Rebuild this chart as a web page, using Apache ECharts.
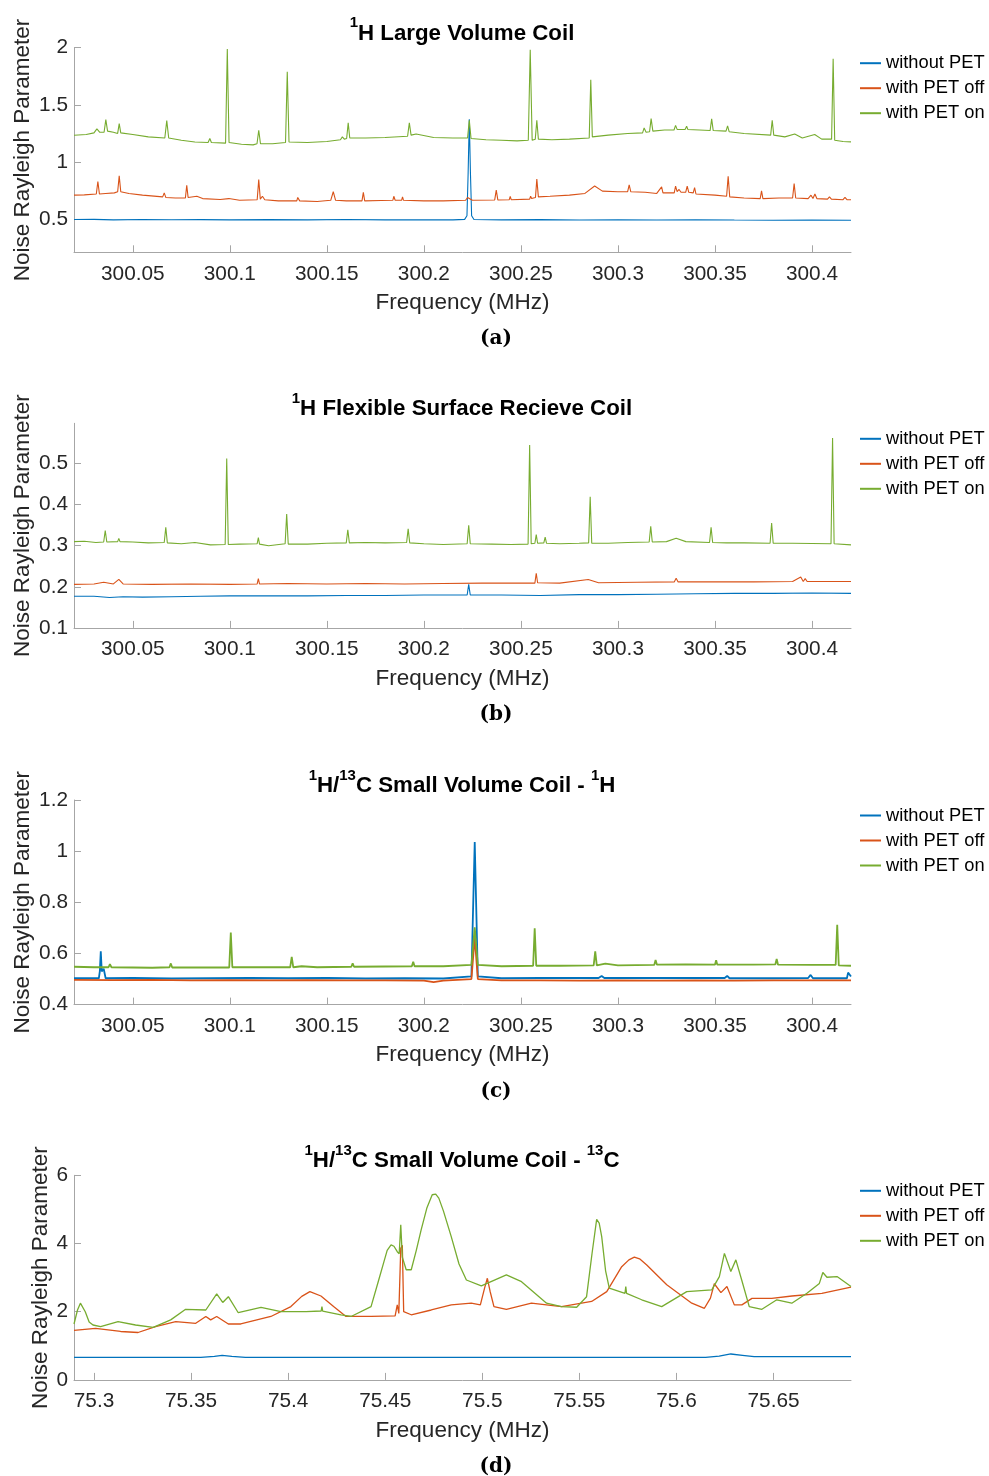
<!DOCTYPE html>
<html>
<head>
<meta charset="utf-8">
<script src="https://cdn.jsdelivr.net/npm/echarts@6/dist/echarts.min.js"></script>
<style>
  html, body { margin: 0; padding: 0; background: #fff; }
  #chart { width: 989px; height: 1476px; }
</style>
</head>
<body>
<div id="chart"></div>
<script>
  // series names + tick values
  const seriesNames = ['without PET', 'with PET off', 'with PET on'];
  const hzTicks = [300.05, 300.1, 300.15, 300.2, 300.25, 300.3, 300.35, 300.4];
  const cTicks = [75.3, 75.35, 75.4, 75.45, 75.5, 75.55, 75.6, 75.65];
  const yTicksA = [0.5, 1, 1.5, 2];
  const yTicksB = [0.1, 0.2, 0.3, 0.4, 0.5];
  const yTicksC = [0.4, 0.6, 0.8, 1, 1.2];
  const yTicksD = [0, 2, 4, 6];

  // (a) 1H large volume coil  [MHz, rayleigh param]
  const aBlue = [[300.0197,0.497],[300.03,0.498],[300.04,0.494],[300.055,0.497],[300.07,0.495],[300.085,0.496],[300.1,0.494],[300.12,0.496],[300.14,0.494],[300.16,0.497],[300.18,0.494],[300.2,0.495],[300.215,0.494],[300.221,0.498],[300.2222,0.53],[300.2228,0.9],[300.2234,1.374],[300.224,0.9],[300.2246,0.53],[300.2258,0.497],[300.24,0.494],[300.26,0.496],[300.28,0.493],[300.3,0.494],[300.32,0.492],[300.34,0.494],[300.36,0.492],[300.38,0.491],[300.4,0.492],[300.4201,0.49]];
  const aOrange = [[300.0197,0.71],[300.025,0.712],[300.0312,0.72],[300.032,0.829],[300.0328,0.72],[300.036,0.725],[300.0405,0.73],[300.041,0.745],[300.0422,0.74],[300.043,0.879],[300.0438,0.74],[300.048,0.725],[300.055,0.71],[300.0654,0.695],[300.0662,0.73],[300.067,0.69],[300.072,0.685],[300.0771,0.685],[300.0778,0.797],[300.0785,0.69],[300.083,0.7],[300.086,0.68],[300.095,0.672],[300.0995,0.68],[300.105,0.665],[300.1141,0.67],[300.1149,0.846],[300.1157,0.675],[300.1168,0.7],[300.118,0.67],[300.125,0.66],[300.1345,0.66],[300.135,0.69],[300.136,0.66],[300.145,0.655],[300.152,0.665],[300.1533,0.74],[300.1545,0.665],[300.16,0.66],[300.1681,0.66],[300.1688,0.734],[300.1695,0.66],[300.178,0.663],[300.184,0.665],[300.1845,0.7],[300.1852,0.665],[300.1885,0.665],[300.189,0.695],[300.1895,0.665],[300.2,0.66],[300.21,0.66],[300.2215,0.665],[300.2225,0.69],[300.2235,0.68],[300.225,0.665],[300.2365,0.668],[300.2373,0.754],[300.2381,0.668],[300.244,0.67],[300.2445,0.7],[300.245,0.67],[300.2545,0.675],[300.255,0.7],[300.2555,0.68],[300.2575,0.69],[300.2582,0.85],[300.259,0.695],[300.265,0.7],[300.275,0.71],[300.283,0.725],[300.288,0.79],[300.292,0.745],[300.3,0.74],[300.305,0.74],[300.3058,0.8],[300.3066,0.74],[300.314,0.735],[300.32,0.725],[300.3225,0.783],[300.3232,0.73],[300.329,0.73],[300.3297,0.789],[300.3305,0.74],[300.3315,0.76],[300.3325,0.735],[300.3349,0.735],[300.3357,0.789],[300.3365,0.735],[300.3388,0.73],[300.3395,0.775],[300.3402,0.72],[300.35,0.71],[300.356,0.7],[300.3568,0.876],[300.3576,0.695],[300.365,0.685],[300.3733,0.68],[300.374,0.748],[300.3747,0.68],[300.383,0.685],[300.39,0.685],[300.3908,0.811],[300.3916,0.685],[300.398,0.68],[300.3995,0.71],[300.4005,0.68],[300.4015,0.72],[300.4025,0.68],[300.408,0.675],[300.409,0.695],[300.41,0.675],[300.416,0.67],[300.417,0.69],[300.418,0.67],[300.4201,0.67]];
  const aGreen = [[300.0197,1.234],[300.026,1.24],[300.030,1.255],[300.0315,1.29],[300.033,1.26],[300.0352,1.26],[300.0361,1.371],[300.037,1.27],[300.040,1.26],[300.0422,1.25],[300.043,1.336],[300.0438,1.255],[300.050,1.24],[300.058,1.22],[300.0665,1.21],[300.0675,1.362],[300.0685,1.21],[300.075,1.19],[300.082,1.175],[300.0888,1.17],[300.0897,1.205],[300.0905,1.17],[300.0978,1.165],[300.0987,1.988],[300.0996,1.17],[300.106,1.155],[300.112,1.15],[300.114,1.16],[300.1149,1.278],[300.1158,1.16],[300.122,1.16],[300.1287,1.17],[300.1296,1.79],[300.1305,1.175],[300.14,1.17],[300.15,1.18],[300.157,1.195],[300.158,1.22],[300.159,1.2],[300.1602,1.205],[300.161,1.342],[300.1618,1.21],[300.17,1.21],[300.18,1.215],[300.1916,1.225],[300.1925,1.342],[300.1934,1.235],[300.196,1.245],[300.197,1.23],[300.205,1.215],[300.215,1.21],[300.2225,1.21],[300.2234,1.365],[300.2243,1.205],[300.232,1.195],[300.240,1.19],[300.248,1.185],[300.2538,1.19],[300.2548,1.983],[300.2558,1.19],[300.2574,1.2],[300.2582,1.365],[300.259,1.2],[300.266,1.195],[300.275,1.2],[300.2852,1.21],[300.286,1.72],[300.2868,1.22],[300.295,1.235],[300.305,1.25],[300.3127,1.255],[300.3135,1.298],[300.3145,1.26],[300.3163,1.265],[300.3171,1.38],[300.318,1.27],[300.324,1.28],[300.3289,1.28],[300.3297,1.32],[300.3305,1.285],[300.3346,1.285],[300.3354,1.313],[300.336,1.285],[300.342,1.28],[300.3475,1.275],[300.3483,1.377],[300.3491,1.275],[300.3557,1.27],[300.3565,1.316],[300.3573,1.265],[300.365,1.25],[300.3787,1.235],[300.3795,1.365],[300.3803,1.235],[300.386,1.22],[300.3911,1.245],[300.395,1.21],[300.4014,1.24],[300.405,1.2],[300.4101,1.2],[300.4109,1.904],[300.4117,1.19],[300.416,1.18],[300.4201,1.176]];

  // (b) 1H flexible surface receive coil
  const bBlue = [[300.0197,0.177],[300.03,0.177],[300.038,0.174],[300.045,0.176],[300.055,0.175],[300.07,0.176],[300.085,0.177],[300.1,0.178],[300.12,0.178],[300.14,0.178],[300.16,0.179],[300.18,0.179],[300.2,0.18],[300.2223,0.18],[300.2231,0.206],[300.2239,0.18],[300.24,0.18],[300.26,0.179],[300.28,0.181],[300.3,0.181],[300.32,0.182],[300.34,0.183],[300.36,0.184],[300.38,0.184],[300.4,0.185],[300.4201,0.184]];
  const bOrange = [[300.0197,0.206],[300.03,0.207],[300.035,0.211],[300.04,0.207],[300.0428,0.218],[300.045,0.207],[300.06,0.206],[300.08,0.207],[300.1,0.206],[300.1141,0.207],[300.1147,0.22],[300.1153,0.207],[300.13,0.208],[300.15,0.207],[300.17,0.208],[300.19,0.207],[300.21,0.208],[300.23,0.209],[300.25,0.209],[300.2572,0.209],[300.2579,0.233],[300.2586,0.21],[300.27,0.209],[300.2847,0.218],[300.29,0.21],[300.31,0.211],[300.329,0.212],[300.33,0.221],[300.331,0.212],[300.35,0.212],[300.37,0.212],[300.39,0.213],[300.3942,0.224],[300.3955,0.213],[300.3965,0.22],[300.3975,0.213],[300.41,0.213],[300.4201,0.213]];
  const bGreen = [[300.0197,0.31],[300.025,0.311],[300.031,0.308],[300.035,0.309],[300.0358,0.337],[300.0366,0.309],[300.0422,0.31],[300.0428,0.318],[300.0434,0.31],[300.05,0.309],[300.058,0.307],[300.0662,0.308],[300.067,0.345],[300.0678,0.307],[300.075,0.305],[300.082,0.308],[300.09,0.302],[300.0976,0.303],[300.0984,0.512],[300.0992,0.303],[300.105,0.304],[300.1141,0.305],[300.1147,0.32],[300.1153,0.304],[300.12,0.3],[300.1285,0.305],[300.1293,0.377],[300.1301,0.304],[300.14,0.304],[300.15,0.306],[300.16,0.307],[300.1608,0.339],[300.1616,0.307],[300.17,0.308],[300.18,0.307],[300.1911,0.308],[300.1919,0.341],[300.1927,0.307],[300.2,0.305],[300.21,0.303],[300.2223,0.305],[300.2231,0.35],[300.2239,0.305],[300.235,0.304],[300.245,0.303],[300.2537,0.304],[300.2545,0.545],[300.2553,0.305],[300.2572,0.306],[300.2579,0.327],[300.2586,0.306],[300.2618,0.307],[300.2625,0.321],[300.2632,0.306],[300.27,0.305],[300.28,0.306],[300.2849,0.307],[300.2857,0.419],[300.2865,0.306],[300.295,0.306],[300.305,0.308],[300.3161,0.309],[300.3169,0.347],[300.3177,0.309],[300.325,0.31],[300.33,0.318],[300.335,0.31],[300.3472,0.308],[300.348,0.345],[300.3488,0.308],[300.356,0.307],[300.365,0.307],[300.3784,0.306],[300.3792,0.355],[300.38,0.306],[300.39,0.306],[300.4098,0.305],[300.4106,0.562],[300.4114,0.305],[300.4201,0.302]];

  // (c) 1H/13C small volume coil, 1H channel
  const cBlue = [[300.0197,0.503],[300.0325,0.503],[300.033,0.53],[300.0335,0.608],[300.034,0.53],[300.035,0.54],[300.036,0.503],[300.05,0.504],[300.07,0.502],[300.09,0.503],[300.11,0.504],[300.13,0.503],[300.15,0.504],[300.17,0.502],[300.19,0.503],[300.21,0.502],[300.2245,0.51],[300.2262,1.036],[300.2278,0.51],[300.24,0.503],[300.26,0.504],[300.29,0.504],[300.2916,0.512],[300.293,0.504],[300.33,0.504],[300.355,0.504],[300.3563,0.512],[300.3575,0.503],[300.38,0.503],[300.398,0.504],[300.3993,0.516],[300.4005,0.503],[300.418,0.503],[300.4186,0.525],[300.4201,0.51]];
  const cOrange = [[300.0197,0.497],[300.04,0.496],[300.06,0.497],[300.08,0.495],[300.1,0.496],[300.12,0.495],[300.14,0.496],[300.16,0.495],[300.18,0.495],[300.2,0.494],[300.205,0.488],[300.21,0.494],[300.2245,0.5],[300.2262,0.665],[300.2278,0.5],[300.24,0.495],[300.26,0.495],[300.28,0.494],[300.3,0.495],[300.32,0.494],[300.34,0.495],[300.36,0.494],[300.38,0.495],[300.4,0.495],[300.4201,0.495]];
  const cGreen = [[300.0197,0.548],[300.03,0.546],[300.0375,0.546],[300.0382,0.558],[300.039,0.546],[300.05,0.545],[300.06,0.544],[300.0689,0.546],[300.0696,0.561],[300.0703,0.545],[300.085,0.545],[300.0997,0.545],[300.1005,0.682],[300.1013,0.546],[300.115,0.546],[300.1311,0.546],[300.1319,0.587],[300.1327,0.546],[300.137,0.55],[300.145,0.546],[300.1626,0.548],[300.1633,0.561],[300.164,0.548],[300.18,0.549],[300.1938,0.55],[300.1945,0.567],[300.1952,0.55],[300.21,0.55],[300.2245,0.555],[300.2262,0.702],[300.2278,0.555],[300.24,0.55],[300.2563,0.552],[300.2571,0.698],[300.2579,0.552],[300.27,0.552],[300.2875,0.553],[300.2883,0.608],[300.2891,0.553],[300.2935,0.56],[300.3,0.553],[300.3187,0.555],[300.3194,0.574],[300.3201,0.556],[300.335,0.557],[300.35,0.556],[300.3506,0.574],[300.3512,0.556],[300.37,0.556],[300.3811,0.557],[300.3818,0.578],[300.3825,0.556],[300.4,0.555],[300.4122,0.555],[300.413,0.712],[300.4138,0.553],[300.4201,0.552]];

  // (d) 1H/13C small volume coil, 13C channel
  const dBlue = [[75.2897,0.66],[75.31,0.66],[75.33,0.66],[75.355,0.66],[75.362,0.69],[75.366,0.72],[75.371,0.69],[75.378,0.66],[75.4,0.66],[75.43,0.66],[75.46,0.66],[75.5,0.66],[75.54,0.66],[75.58,0.66],[75.6,0.66],[75.615,0.66],[75.622,0.7],[75.628,0.76],[75.634,0.72],[75.64,0.68],[75.66,0.68],[75.6899,0.68]];
  const dOrange = [[75.2897,1.45],[75.3008,1.51],[75.3137,1.42],[75.3227,1.39],[75.3317,1.56],[75.3421,1.71],[75.3524,1.66],[75.3576,1.86],[75.3601,1.76],[75.3632,1.86],[75.3692,1.64],[75.3756,1.64],[75.3911,1.86],[75.4014,2.15],[75.407,2.45],[75.4112,2.59],[75.4169,2.46],[75.4234,2.15],[75.4298,1.86],[75.4427,1.86],[75.4551,1.88],[75.4562,2.2],[75.457,1.95],[75.458,3.86],[75.4588,3.95],[75.4595,2.0],[75.4634,1.91],[75.4737,2.05],[75.484,2.2],[75.4943,2.25],[75.499,2.2],[75.5012,2.7],[75.5026,2.98],[75.504,2.6],[75.506,2.15],[75.5124,2.07],[75.5253,2.25],[75.5408,2.15],[75.5563,2.3],[75.5641,2.59],[75.5718,3.32],[75.5755,3.52],[75.5783,3.6],[75.581,3.55],[75.5847,3.37],[75.595,2.79],[75.6079,2.25],[75.6144,2.1],[75.6175,2.4],[75.6195,2.82],[75.6229,2.56],[75.626,2.74],[75.6298,2.2],[75.6337,2.2],[75.6389,2.39],[75.6491,2.39],[75.6595,2.46],[75.6749,2.54],[75.6899,2.72]];
  const dGreen = [[75.2897,1.64],[75.2915,2.05],[75.293,2.25],[75.2955,2.0],[75.2975,1.7],[75.2995,1.61],[75.3034,1.56],[75.3124,1.71],[75.3214,1.61],[75.3305,1.54],[75.3395,1.76],[75.3472,2.07],[75.3576,2.05],[75.3632,2.52],[75.3663,2.27],[75.3692,2.44],[75.3743,1.97],[75.386,2.13],[75.3963,2.0],[75.4092,2.0],[75.417,2.02],[75.4174,2.15],[75.4178,2.02],[75.4272,1.91],[75.4324,1.86],[75.4427,2.15],[75.4465,2.9],[75.4492,3.44],[75.451,3.8],[75.453,3.96],[75.4545,3.92],[75.4562,3.76],[75.4572,3.7],[75.458,4.55],[75.4588,3.6],[75.4608,3.23],[75.4634,3.23],[75.466,3.8],[75.4685,4.4],[75.4715,5.05],[75.4742,5.43],[75.476,5.45],[75.4776,5.33],[75.480,4.95],[75.484,4.2],[75.488,3.4],[75.4918,2.93],[75.4995,2.76],[75.5124,3.08],[75.5202,2.88],[75.5331,2.25],[75.5408,2.15],[75.5486,2.13],[75.5537,2.44],[75.5565,3.7],[75.5589,4.71],[75.5602,4.6],[75.5615,4.2],[75.5635,3.2],[75.5654,2.69],[75.5735,2.54],[75.5739,2.74],[75.5743,2.54],[75.5821,2.35],[75.5924,2.15],[75.6053,2.59],[75.6182,2.64],[75.6221,3.03],[75.6247,3.71],[75.628,3.18],[75.6306,3.52],[75.6336,2.93],[75.6375,2.15],[75.644,2.07],[75.6517,2.35],[75.6594,2.25],[75.6672,2.54],[75.6736,2.83],[75.6754,3.15],[75.6775,3.01],[75.6827,3.03],[75.6899,2.74]];

  const colors = ['#0072BD', '#D95319', '#77AC30'];
  const sans = 'Liberation Sans, Arial, sans-serif';

  const panels = [
    { top: 47.7, x: [300.0197, 300.4201], xTicks: hzTicks, y: [0.21, 2], yTicks: yTicksA, data: [aBlue, aOrange, aGreen], lw: 1.1, gap: 40, cap: '(a)',
      title: '{s|1}{m|H Large Volume Coil}' },
    { top: 423.3, x: [300.0197, 300.4201], xTicks: hzTicks, y: [0.1, 0.598], yTicks: yTicksB, data: [bBlue, bOrange, bGreen], lw: 1.1, gap: 40, cap: '(b)',
      title: '{s|1}{m|H Flexible Surface Recieve Coil}' },
    { top: 800, x: [300.0197, 300.4201], xTicks: hzTicks, y: [0.4, 1.2], yTicks: yTicksC, data: [cBlue, cOrange, cGreen], lw: 1.8, gap: 40, cap: '(c)',
      title: '{s|1}{m|H/}{s|13}{m|C Small Volume Coil - }{s|1}{m|H}' },
    { top: 1175.3, x: [75.2897, 75.6899], xTicks: cTicks, y: [0, 6], yTicks: yTicksD, data: [dBlue, dOrange, dGreen], lw: 1.3, gap: 22, cap: '(d)',
      title: '{s|1}{m|H/}{s|13}{m|C Small Volume Coil - }{s|13}{m|C}' }
  ];

  const fmt = v => String(+(+v).toFixed(2));

  const grid = [], xAxis = [], yAxis = [], series = [], legend = [], title = [];
  panels.forEach((p, i) => {
    grid.push({ left: 74, right: 138, top: p.top, height: 204.6, containLabel: false });
    xAxis.push({
      type: 'value', gridIndex: i, min: p.x[0], max: p.x[1],
      name: 'Frequency (MHz)', nameLocation: 'middle', nameGap: 39,
      nameTextStyle: { fontFamily: sans, fontSize: 22.5, color: '#262626' },
      axisLine: { show: true, lineStyle: { color: '#a6a6a6', width: 1 } },
      axisTick: { show: true, inside: true, length: 7, customValues: p.xTicks, lineStyle: { color: '#a6a6a6' } },
      axisLabel: { customValues: p.xTicks, formatter: fmt, margin: 11, fontFamily: sans, fontSize: 20.8, color: '#262626' },
      splitLine: { show: false }
    });
    yAxis.push({
      type: 'value', gridIndex: i, min: p.y[0], max: p.y[1],
      name: 'Noise Rayleigh Parameter', nameLocation: 'middle', nameGap: p.gap, nameRotate: 90,
      nameMoveOverlap: false,
      nameTextStyle: { fontFamily: sans, fontSize: 22.5, color: '#262626' },
      axisLine: { show: true, lineStyle: { color: '#a6a6a6', width: 1 } },
      axisTick: { show: true, inside: true, length: 7, customValues: p.yTicks, lineStyle: { color: '#a6a6a6' } },
      axisLabel: { customValues: p.yTicks, formatter: fmt, margin: 6, fontFamily: sans, fontSize: 20.8, color: '#262626' },
      splitLine: { show: false }
    });
    p.data.forEach((d, k) => {
      series.push({
        name: seriesNames[k], type: 'line', xAxisIndex: i, yAxisIndex: i,
        data: d, showSymbol: false, symbol: 'none', animation: false,
        lineStyle: { color: colors[k], width: p.lw }, itemStyle: { color: colors[k] }
      });
    });
    legend.push({
      data: seriesNames, orient: 'vertical', left: 855, top: p.top + 0.5,
      icon: 'rect', itemWidth: 21, itemHeight: 2, itemGap: 5,
      textStyle: { fontFamily: sans, fontSize: 18.3, color: '#000', lineHeight: 20 },
      selectedMode: false
    });
    title.push({
      text: p.title, left: 462, top: p.top - 32, textAlign: 'center', padding: 0,
      textStyle: {
        rich: {
          m: { fontFamily: sans, fontSize: 22.3, fontWeight: 'bold', color: '#000', lineHeight: 36 },
          s: { fontFamily: sans, fontSize: 15, fontWeight: 'bold', color: '#000', lineHeight: 17, verticalAlign: 'top' }
        }
      }
    });
    title.push({
      text: p.cap, left: 496, top: p.top + 281.5, textAlign: 'center', padding: 0,
      textStyle: { fontFamily: 'DejaVu Serif, serif', fontSize: 20, fontWeight: 'bold', color: '#000', lineHeight: 20 }
    });
  });

  const chart = echarts.init(document.getElementById('chart'), null, { renderer: 'canvas' });
  chart.setOption({ animation: false, backgroundColor: '#fff', title, grid, xAxis, yAxis, legend, series });
</script>
</body>
</html>
